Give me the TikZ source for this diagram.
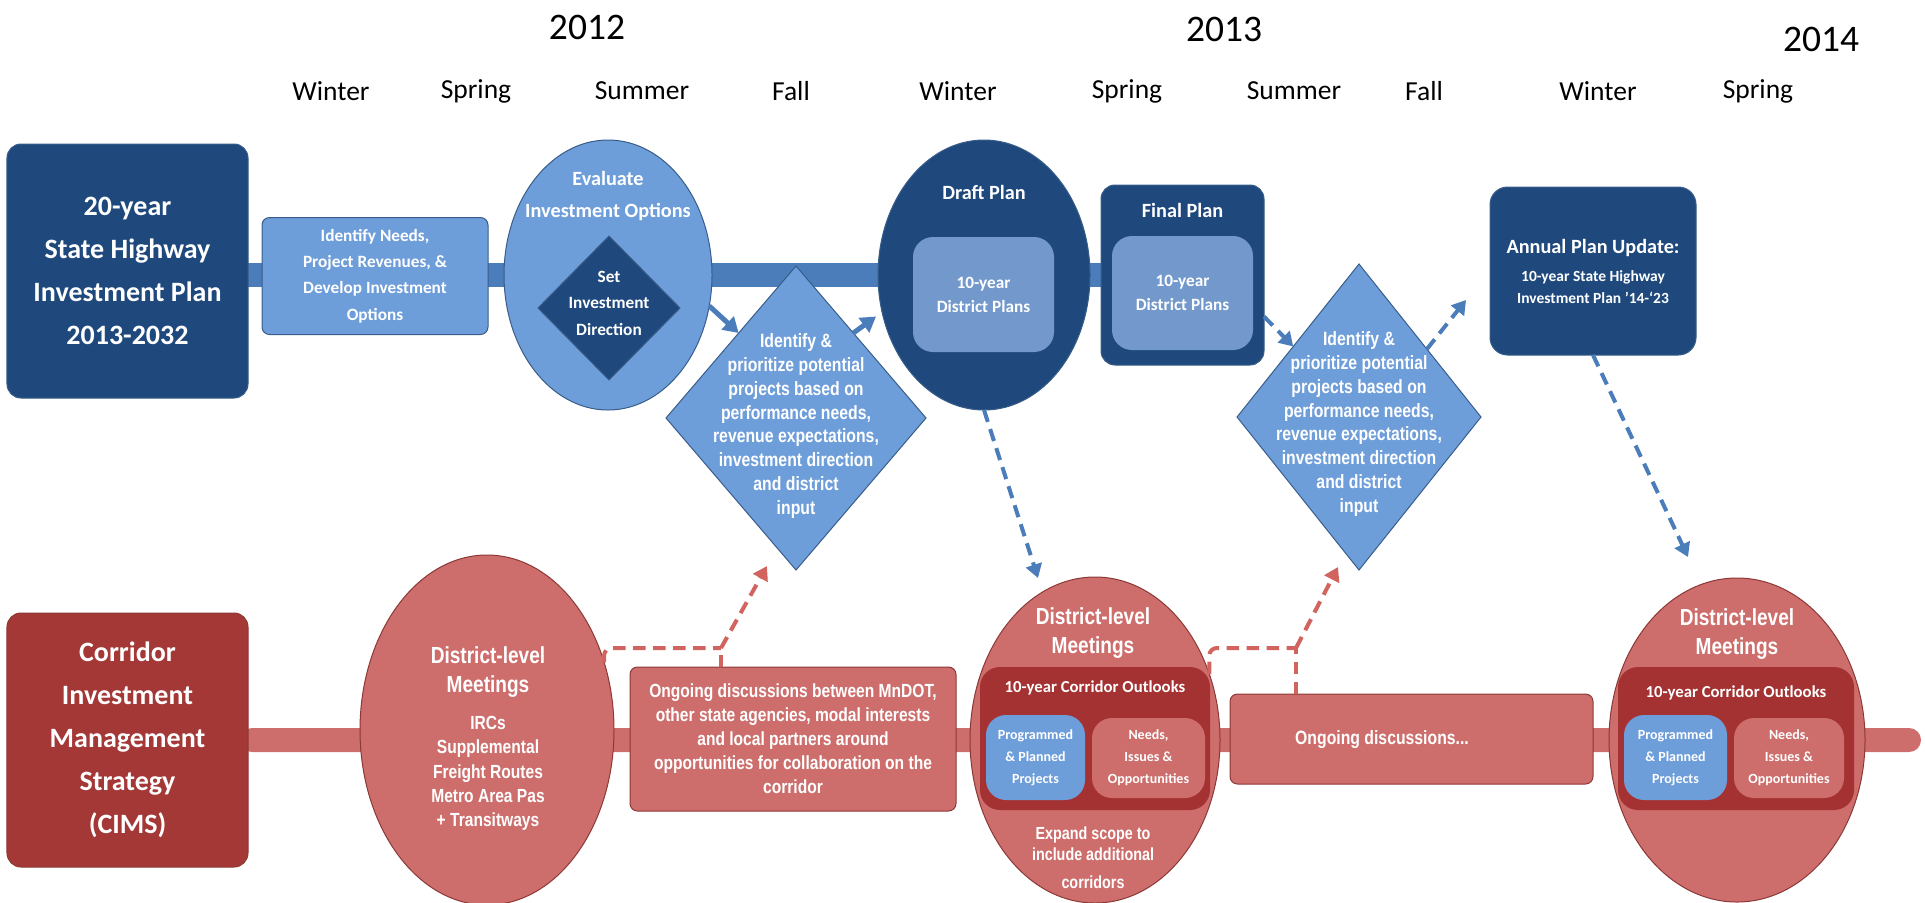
\documentclass[tikz,border=0pt]{standalone}
\usepackage{fontspec}
\setmainfont{Carlito}
\newfontfamily\narrowfont[FakeStretch=0.82]{Liberation Sans}
\usetikzlibrary{shapes.geometric,arrows.meta}
\definecolor{dkblue}{RGB}{31,73,125}
\definecolor{ltblue}{RGB}{110,158,218}
\definecolor{barblue}{RGB}{74,125,186}
\definecolor{midblue}{RGB}{115,153,204}
\definecolor{blueline}{RGB}{56,93,138}
\definecolor{dkred}{RGB}{163,56,55}
\definecolor{ltred}{RGB}{205,110,108}
\definecolor{redline}{RGB}{140,56,54}
\definecolor{inred}{RGB}{165,50,50}
\definecolor{dashred}{RGB}{210,100,95}
\newcommand\myfs[2]{\fontsize{#1}{#2}\selectfont}
\tikzset{
  shp/.style={inner sep=0pt, outer sep=0pt},
  wt/.style={text=white, align=center, inner sep=0pt},
  dkbox/.style={shp, rectangle, rounded corners=5.6pt, fill=dkblue, draw=blueline, line width=0.4pt},
  ltbox/.style={shp, rectangle, rounded corners=3pt, fill=ltblue, draw=blueline, line width=0.4pt},
  blueell/.style={shp, ellipse, draw=blueline, line width=0.4pt},
  redell/.style={shp, ellipse, fill=ltred, draw=redline, line width=0.4pt},
  redbox/.style={shp, rectangle, rounded corners=3pt, fill=ltred, draw=redline, line width=0.4pt},
  innerbox/.style={shp, rectangle, rounded corners=8pt},
  yr/.style={inner sep=0pt, font=\myfs{15}{18}},
  season/.style={inner sep=0pt, font=\myfs{11}{13}},
  solidarrow/.style={draw=barblue, line width=2pt, -{Triangle[length=6pt,width=7pt]}},
  bluedash/.style={draw=barblue, line width=1.6pt, dash pattern=on 5pt off 3pt, -{Triangle[length=5.5pt,width=6.5pt]}},
  reddash/.style={draw=dashred, line width=1.6pt, dash pattern=on 5pt off 3pt},
  reddasharrow/.style={reddash, -{Triangle[length=5.5pt,width=6.5pt]}},
}
\begin{document}
\begin{tikzpicture}[x=0.4pt,y=-0.4pt]
\useasboundingbox (0,0) rectangle (1925,902);
% years and seasons
\node[yr] (y12) at (587,27) {2012};
\node[yr] (y13) at (1224,29) {2013};
\node[yr] (y14) at (1821,39) {2014};
\node[season] (s1) at (331,91) {Winter};
\node[season] (s2) at (476,91) {Spring};
\node[season] (s3) at (642,91) {Summer};
\node[season] (s4) at (791,91) {Fall};
\node[season] (s5) at (958,91) {Winter};
\node[season] (s6) at (1127,91) {Spring};
\node[season] (s7) at (1294,91) {Summer};
\node[season] (s8) at (1424,91) {Fall};
\node[season] (s9) at (1598,91) {Winter};
\node[season] (s10) at (1758,91) {Spring};
% bars
\fill[barblue] (240,263) rectangle (1105,287);
\fill[ltred, rounded corners=4.8pt] (240,728) rectangle (1921,752);
% top row
\node[dkbox, minimum width=96.4pt, minimum height=101.6pt, wt, font=\myfs{11.2}{17.2}\bfseries] (plan20) at (127.5,271) {20-year\\State Highway\\Investment Plan\\2013-2032};
\node[ltbox, minimum width=90.4pt, minimum height=46.8pt, wt, font=\myfs{6.9}{10.5}\bfseries] (needs) at (375,276) {Identify Needs,\\Project Revenues, \&\\Develop Investment\\Options};
\node[blueell, fill=ltblue, minimum width=83.2pt, minimum height=108pt] (eval) at (608,275) {};
\node[wt, font=\myfs{8.1}{12.8}\bfseries] (evalt) at (608,196) {Evaluate\\Investment Options};
\node[shp, diamond, fill=dkblue, draw=blueline, line width=0.4pt, minimum width=56.8pt, minimum height=57.6pt] (setdir) at (609,308) {};
\node[wt, font=\myfs{6.9}{10.6}\bfseries] (setdirt) at (609,303) {Set\\Investment\\Direction};
\node[shp, diamond, fill=ltblue, draw=blueline, line width=0.4pt, minimum width=104pt, minimum height=121.6pt] (pri1) at (796,418) {};
\node[wt, font=\narrowfont\myfs{7.7}{9.5}\bfseries] (pri1t) at (796,426) {Identify \&\\prioritize potential\\projects based on\\performance needs,\\revenue expectations,\\investment direction\\and district\\input};
\node[blueell, fill=dkblue, minimum width=84.8pt, minimum height=108pt] (draft) at (984,275) {};
\node[wt, font=\myfs{8.1}{10}\bfseries] (draftt) at (984,192) {Draft Plan};
\node[innerbox, fill=midblue, minimum width=56.4pt, minimum height=46pt, wt, font=\myfs{6.9}{9.6}\bfseries] (dp10) at (983.5,294.5) {10-year\\District Plans};
\node[dkbox, minimum width=65.2pt, minimum height=72pt] (final) at (1182.5,275) {};
\node[wt, font=\myfs{8.1}{10}\bfseries] (finalt) at (1182.5,210) {Final Plan};
\node[innerbox, fill=midblue, minimum width=56.4pt, minimum height=45.6pt, wt, font=\myfs{6.9}{9.6}\bfseries] (fp10) at (1182.5,293) {10-year\\District Plans};
\node[shp, diamond, fill=ltblue, draw=blueline, line width=0.4pt, minimum width=97.6pt, minimum height=122.4pt] (pri2) at (1359,417) {};
\node[wt, font=\narrowfont\myfs{7.7}{9.5}\bfseries] (pri2t) at (1359,424) {Identify \&\\prioritize potential\\projects based on\\performance needs,\\revenue expectations,\\investment direction\\and district\\input};
\node[dkbox, rounded corners=7pt, minimum width=82.4pt, minimum height=67.2pt] (annual) at (1593,271) {};
\node[wt, font=\myfs{8.1}{10}\bfseries] (annualt) at (1593,248) {Annual Plan Update:};
\node[wt, font=\myfs{6.2}{8.8}\bfseries] (annuals) at (1593,287) {10-year State Highway\\Investment Plan ’14-‘23};
% bottom row
\node[shp, rectangle, rounded corners=5.6pt, fill=dkred, draw=redline, line width=0.4pt, minimum width=96.4pt, minimum height=101.6pt, wt, font=\myfs{11.2}{17.2}\bfseries] (cims) at (127.5,740) {Corridor\\Investment\\Management\\Strategy\\(CIMS)};
\node[redell, minimum width=101.6pt, minimum height=140pt] (mt1) at (487,730) {};
\node[wt, font=\narrowfont\myfs{9.3}{11.6}\bfseries] (mt1t) at (488,672.5) {District-level\\Meetings};
\node[wt, font=\narrowfont\myfs{7.6}{9.7}\bfseries] (mt1l) at (488,773.5) {IRCs\\Supplemental\\Freight Routes\\Metro Area Pas\\+ Transitways};
\node[redbox, minimum width=130.4pt, minimum height=57.6pt, wt, font=\narrowfont\myfs{7.6}{9.6}\bfseries] (ong1) at (793,739) {Ongoing discussions between MnDOT,\\other state agencies, modal interests\\and local partners around\\opportunities for collaboration on the\\corridor};
\node[redell, minimum width=100pt, minimum height=130.4pt] (mt2) at (1095,740) {};
\node[wt, font=\narrowfont\myfs{9.3}{11.6}\bfseries] (mt2t) at (1093,633.5) {District-level\\Meetings};
\node[innerbox, fill=inred, minimum width=92pt, minimum height=57.2pt] (cor2) at (1095,738.5) {};
\node[wt, font=\myfs{6.7}{8}\bfseries] (cor2t) at (1095,688) {10-year Corridor Outlooks};
\node[innerbox, fill=ltblue, minimum width=39.6pt, minimum height=34pt, wt, font=\myfs{5.6}{8.8}\bfseries] (prog2) at (1035.5,757.5) {Programmed\\\& Planned\\Projects};
\node[innerbox, fill=ltred, minimum width=45.2pt, minimum height=32pt, wt, font=\myfs{5.6}{8.8}\bfseries] (need2) at (1148.5,758) {Needs,\\Issues \&\\Opportunities};
\node[wt, font=\narrowfont\myfs{7}{8.5}\bfseries] (exp2) at (1093,843.5) {Expand scope to\\include additional};
\node[wt, font=\narrowfont\myfs{7}{8.5}\bfseries] (exp2b) at (1093,882) {corridors};
\node[redbox, minimum width=145.2pt, minimum height=36pt] (ong2) at (1411.5,739) {};
\node[wt, font=\narrowfont\myfs{7.7}{9}\bfseries] (ong2t) at (1382,740) {Ongoing discussions...};
\node[redell, minimum width=102.4pt, minimum height=129.6pt] (mt3) at (1737,740) {};
\node[wt, font=\narrowfont\myfs{9.3}{11.6}\bfseries] (mt3t) at (1737,634) {District-level\\Meetings};
\node[innerbox, fill=inred, minimum width=94.4pt, minimum height=57.2pt] (cor3) at (1736,738.5) {};
\node[wt, font=\myfs{6.7}{8}\bfseries] (cor3t) at (1736,693) {10-year Corridor Outlooks};
\node[innerbox, fill=ltblue, minimum width=41.2pt, minimum height=34pt, wt, font=\myfs{5.6}{8.8}\bfseries] (prog3) at (1675.5,757.5) {Programmed\\\& Planned\\Projects};
\node[innerbox, fill=ltred, minimum width=44pt, minimum height=32pt, wt, font=\myfs{5.6}{8.8}\bfseries] (need3) at (1789,758) {Needs,\\Issues \&\\Opportunities};
% connectors
\draw[solidarrow] (eval.-17) -- (pri1.124);
\draw[solidarrow, shorten >=3pt] (pri1.56) -- (draft.200);
\draw[bluedash] (final.-27) -- (pri2.133);
\coordinate (d2tip) at (1466,300);
\draw[bluedash] (pri2.45) -- (d2tip);
\coordinate (d3tip) at (1038,578);
\draw[bluedash] (draft.south) -- (d3tip);
\coordinate (d4tip) at (1688,557);
\draw[bluedash] (annual.south) -- (d4tip);
\coordinate (j1) at (721,648);
\coordinate (r1tip) at (767,566);
\draw[reddash, rounded corners=3pt] (mt1.30) |- (j1);
\draw[reddash] (ong1.north -| j1) -- (j1);
\draw[reddasharrow] (j1) -- (r1tip);
\coordinate (j2) at (1296,648);
\coordinate (r2tip) at (1338,567);
\draw[reddash, rounded corners=3pt] (mt2.30) |- (j2);
\draw[reddash] (ong2.north -| j2) -- (j2);
\draw[reddasharrow] (j2) -- (r2tip);
\end{tikzpicture}
\end{document}
